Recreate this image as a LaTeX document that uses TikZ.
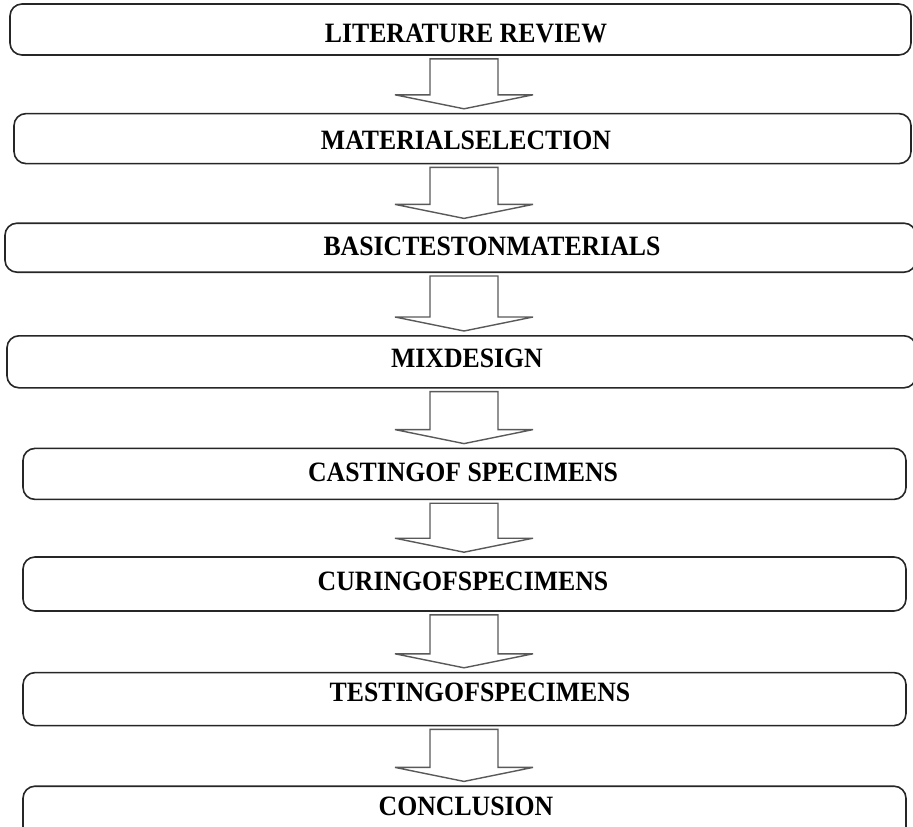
\documentclass[tikz,border=0pt]{standalone}
\usepackage{fontspec}
\setmainfont{Liberation Serif}
\usepackage{tikz}
\usetikzlibrary{positioning, calc}
\tikzset{StepBox/.style={%
    shape=rectangle,%
    draw=black!85,%
    fill=white,%
    rounded corners=12pt,%
    line width=1.6pt,%
    inner sep=0pt,%
}}
\tikzset{StepLabel/.style={%
    anchor=base,%
    inner sep=0pt,%
    font=\fontsize{28}{32}\selectfont\bfseries,%
}}
\tikzset{BlockArrow/.style={%
    draw=black!65,%
    fill=white,%
    line width=1.4pt,%
    line join=miter,%
}}
\NewDocumentCommand{\boxText}{m}{%
    \scalebox{0.92}[1]{#1}%
}
\NewDocumentCommand{\blockArrow}{m m}{%
    \draw[BlockArrow] ($(#1.south -| ax)+(-34,-3)$) -- ($(#1.south -| ax)+(34,-3)$)
        -- ($(#2.north -| ax)+(34,18)$) -- ($(#2.north -| ax)+(69,18)$)
        -- ($(#2.north -| ax)+(0,4)$) -- ($(#2.north -| ax)+(-69,18)$)
        -- ($(#2.north -| ax)+(-34,18)$) -- cycle;%
}

\begin{document}
\begin{tikzpicture}[x=1pt, y=1pt]
    \useasboundingbox (0,0) rectangle (913,-827);
    \coordinate (ax) at (464,0);

    \node[StepBox, minimum width=901pt, minimum height=51pt] (b1) at (460.5,-29.5) {};
    \node[StepBox, minimum width=897pt, minimum height=50pt, below=57pt of b1, xshift=2pt] (b2) {};
    \node[StepBox, minimum width=911pt, minimum height=49pt, below=58pt of b2, xshift=-2pt] (b3) {};
    \node[StepBox, minimum width=909pt, minimum height=52pt, below=62pt of b3, xshift=1pt] (b4) {};
    \node[StepBox, minimum width=883pt, minimum height=51pt, below=59pt of b4, xshift=3pt] (b5) {};
    \node[StepBox, minimum width=883pt, minimum height=54pt, below=56pt of b5] (b6) {};
    \node[StepBox, minimum width=883pt, minimum height=53pt, below=60pt of b6] (b7) {};
    \node[StepBox, minimum width=883pt, minimum height=55pt, below=59pt of b7] (b8) {};

    \node[StepLabel] (l1) at (466,-42) {\boxText{LITERATURE REVIEW}};
    \node[StepLabel] (l2) at (466,-149) {\boxText{MATERIALSELECTION}};
    \node[StepLabel] (l3) at (492,-255) {\boxText{BASICTESTONMATERIALS}};
    \node[StepLabel] (l4) at (467,-367) {\boxText{MIXDESIGN}};
    \node[StepLabel] (l5) at (463,-481) {\boxText{CASTINGOF SPECIMENS}};
    \node[StepLabel] (l6) at (463,-590) {\boxText{CURINGOFSPECIMENS}};
    \node[StepLabel] (l7) at (480,-701) {\boxText{TESTINGOFSPECIMENS}};
    \node[StepLabel] (l8) at (466,-815) {\boxText{CONCLUSION}};

    \blockArrow{b1}{b2}
    \blockArrow{b2}{b3}
    \blockArrow{b3}{b4}
    \blockArrow{b4}{b5}
    \blockArrow{b5}{b6}
    \blockArrow{b6}{b7}
    \blockArrow{b7}{b8}
\end{tikzpicture}
\end{document}
